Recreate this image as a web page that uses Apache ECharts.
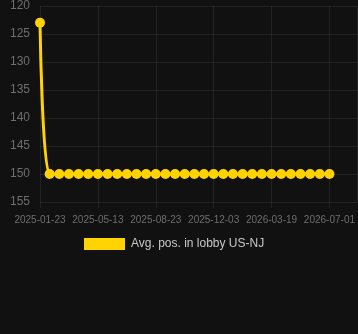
<!DOCTYPE html>
<html>
<head>
<meta charset="utf-8">
<script src="https://cdn.jsdelivr.net/npm/echarts@6/dist/echarts.min.js"></script>
<style>
html,body{margin:0;padding:0;background:#111111;}
#chart{width:358px;height:334px;}
</style>
</head>
<body>
<div id="chart"></div>
<script>
var categories = [
  '2025-01-23','2025-02-10','2025-02-28','2025-03-19','2025-04-06','2025-04-24',
  '2025-05-13','2025-05-30','2025-06-16','2025-07-03','2025-07-20','2025-08-06',
  '2025-08-23','2025-09-09','2025-09-26','2025-10-13','2025-10-30','2025-11-16',
  '2025-12-03','2025-12-21','2026-01-08','2026-01-26','2026-02-12','2026-03-02',
  '2026-03-19','2026-04-06','2026-04-23','2026-05-10','2026-05-27','2026-06-14',
  '2026-07-01'
];
var values = [
  123,150,150,150,150,150,150,150,150,150,150,150,150,150,150,150,
  150,150,150,150,150,150,150,150,150,150,150,150,150,150,150
];
var seriesName = 'Avg. pos. in lobby US-NJ';
var yTicks = [120,125,130,135,140,145,150,155];

var chart = echarts.init(document.getElementById('chart'), null, {renderer:'canvas'});
var gridColor = 'rgba(255,255,255,0.075)';
chart.setOption({
  backgroundColor: '#111111',
  animation: false,
  grid: {left: 40, right: 0, top: 6, bottom: 132, containLabel: false},
  legend: {
    top: 233, left: 79,
    itemWidth: 41, itemHeight: 12, itemGap: 10,
    icon: 'rect',
    textStyle: {color: '#c8c8c8', fontSize: 12, fontFamily: 'Liberation Sans, Arial, sans-serif', padding: [0,0,0,1]},
    data: [seriesName]
  },
  xAxis: {
    type: 'value',
    min: 0,
    max: 32.9,
    interval: 6,
    axisLine: {show: false},
    axisTick: {show: true, length: 6, lineStyle: {color: gridColor}},
    splitLine: {show: true, lineStyle: {color: gridColor, width: 1}},
    axisLabel: {
      color: '#6e6e6e', fontSize: 10, margin: 13,
      fontFamily: 'Liberation Sans, Arial, sans-serif',
      showMaxLabel: false,
      formatter: function (v) { return categories[Math.round(v)] || ''; }
    }
  },
  yAxis: {
    type: 'value',
    inverse: true,
    min: yTicks[0],
    max: yTicks[yTicks.length - 1],
    interval: 5,
    axisLine: {show: false},
    axisTick: {show: false},
    splitLine: {show: true, lineStyle: {color: gridColor, width: 1}},
    axisLabel: {
      color: '#6e6e6e', fontSize: 12, margin: 10,
      fontFamily: 'Liberation Sans, Arial, sans-serif'
    }
  },
  series: [{
    name: seriesName,
    type: 'line',
    data: values.map(function (v, i) { return [i, v]; }),
    smooth: 0.4,
    symbol: 'circle',
    symbolSize: 10,
    showAllSymbol: true,
    lineStyle: {color: '#FFD300', width: 3},
    itemStyle: {color: '#FFD300'}
  }]
});
</script>
</body>
</html>
